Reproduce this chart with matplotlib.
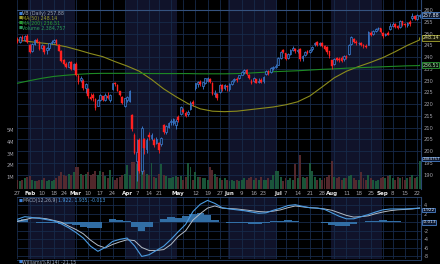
import matplotlib
matplotlib.use('Agg')
import matplotlib.pyplot as plt
import numpy as np
import pandas as pd

# ---------------- data ----------------
holidays = ['2025-02-17', '2025-04-18', '2025-05-26', '2025-06-19', '2025-07-04', '2025-09-01']
dates = pd.bdate_range('2025-01-27', '2025-09-23', freq='C', holidays=holidays)

# daily candles (open, high, low, close)
opens = [247.8, 246.5, 248.4, 247.4, 249.0,
         245.0, 242.5, 245.6, 247.2, 246.4,
         244.0, 244.6, 243.0, 243.8, 245.8,
         246.6, 247.2, 245.2, 242.6,
         238.6, 237.0, 236.0, 238.0, 235.0,
         237.2, 232.0, 230.4, 230.0, 227.0,
         226.4, 223.2, 224.0, 222.0, 219.4,
         221.8, 223.4, 221.8, 223.6, 221.8,
         226.4, 228.8, 228.2, 225.4, 223.2,
         219.4,
         221.6, 221.4, 215.4, 207.0,
         196.0, 204.6, 191.6, 205.0, 200.8,
         207.0, 205.8, 204.6, 203.4,
         203.6, 203.0, 211.0, 208.0, 210.4,
         212.4, 212.0, 211.0,
         214.6, 215.6,
         217.6, 216.4, 215.8, 218.0, 220.8,
         227.0, 228.4, 229.6, 227.6, 229.0,
         229.8, 230.6, 229.0, 224.2, 224.4,
         225.0, 228.0, 226.8, 227.8,
         226.6, 228.6, 230.2, 230.6, 231.2,
         232.6, 233.8, 234.4, 232.4, 230.0,
         229.8, 230.6, 229.4, 230.4,
         229.8, 232.8, 234.2, 233.6, 235.4,
         236.0,
         236.8, 239.6, 243.0,
         241.6, 239.6, 241.4, 243.0, 243.4,
         242.6, 243.6, 239.6, 240.8, 242.6,
         242.0, 243.4, 245.4, 246.4, 245.4,
         246.2, 244.6, 244.4, 242.6,
         238.6,
         237.0, 239.6, 239.4, 239.6, 239.0,
         240.6, 241.2, 245.6, 247.6, 246.6,
         245.8, 246.0, 245.0, 244.6, 245.2,
         250.4, 249.8, 251.2, 252.2, 252.2,
         250.2, 249.4, 250.4, 251.8,
         253.4, 254.0, 253.4, 252.8, 255.2,
         254.2, 253.6, 255.0, 256.6, 257.4,
         256.4, 257.6]
highs = [248.5, 248.8, 249.6, 249.5, 249.8,
         245.5, 246.0, 247.5, 248.0, 246.8,
         245.6, 245.0, 244.2, 246.0, 247.2,
         247.8, 247.6, 245.6, 243.0,
         239.4, 237.8, 238.4, 238.4, 237.6,
         237.8, 232.8, 232.0, 230.6, 228.8,
         226.8, 224.6, 224.8, 222.4, 222.0,
         224.4, 223.6, 224.8, 225.0, 224.2,
         229.2, 229.6, 228.6, 225.8, 223.6,
         222.8,
         223.6, 226.2, 216.0, 207.6,
         205.0, 205.6, 210.8, 205.6, 205.4,
         208.0, 207.8, 205.6, 206.0,
         203.8, 206.2, 211.6, 211.0, 212.4,
         213.6, 214.0, 213.8,
         215.4, 219.2,
         218.4, 217.0, 217.6, 221.4, 221.6,
         229.2, 229.8, 230.2, 229.6, 231.2,
         231.6, 231.0, 229.4, 226.0, 224.8,
         228.6, 228.4, 228.6, 228.2,
         228.8, 230.4, 231.0, 231.4, 232.6,
         234.0, 234.8, 234.8, 232.8, 230.8,
         231.4, 230.8, 231.2, 231.0,
         232.0, 234.6, 234.6, 235.6, 236.4,
         237.0,
         240.2, 242.4, 243.6,
         241.8, 241.8, 243.4, 244.6, 243.8,
         243.6, 243.8, 241.0, 242.6, 243.0,
         243.6, 244.8, 246.6, 246.8, 246.4,
         246.4, 245.0, 244.8, 242.8,
         238.8,
         239.8, 240.2, 240.0, 240.4, 240.8,
         241.0, 245.6, 248.8, 248.0, 247.2,
         246.6, 246.4, 245.6, 245.4, 251.0,
         251.0, 251.6, 252.4, 252.8, 252.4,
         250.6, 250.4, 251.0, 254.6,
         254.8, 254.4, 253.8, 255.8, 255.4,
         254.6, 255.0, 255.8, 258.6, 257.8,
         258.2, 258.4]
lows = [245.8, 246.2, 247.0, 247.0, 246.0,
        241.6, 242.2, 245.0, 245.8, 243.2,
        243.6, 241.2, 241.4, 243.2, 245.4,
        246.0, 245.0, 242.4, 237.8,
        236.8, 235.4, 235.8, 234.4, 234.4,
        232.0, 228.6, 229.4, 226.0, 224.6,
        222.6, 221.6, 221.2, 217.6, 219.0,
        221.4, 221.2, 221.4, 222.0, 221.0,
        226.0, 227.8, 225.4, 223.4, 220.0,
        218.6,
        220.8, 221.0, 208.6, 198.6,
        187.2, 190.6, 190.2, 198.8, 199.2,
        204.6, 204.8, 201.8, 203.0,
        199.4, 202.4, 207.4, 207.4, 209.8,
        211.0, 211.2, 209.6,
        212.6, 215.2,
        216.2, 214.4, 214.8, 217.6, 219.2,
        226.0, 227.4, 227.8, 226.6, 228.4,
        229.4, 228.8, 223.8, 223.2, 221.6,
        224.6, 225.8, 226.2, 225.6,
        225.8, 228.2, 229.4, 229.6, 230.8,
        232.2, 232.8, 232.6, 230.6, 228.6,
        229.4, 228.8, 228.8, 229.2,
        229.2, 232.4, 232.6, 233.2, 234.6,
        235.4,
        236.6, 239.2, 241.6,
        238.6, 239.2, 240.8, 242.6, 241.8,
        241.8, 238.4, 238.2, 240.4, 241.2,
        241.6, 242.8, 244.8, 244.8, 244.6,
        244.2, 243.0, 241.4, 239.8,
        234.8,
        236.8, 238.2, 238.0, 237.8, 238.4,
        239.2, 240.8, 245.2, 245.8, 245.2,
        245.0, 244.8, 244.0, 243.8, 245.0,
        249.0, 249.4, 250.8, 251.4, 250.4,
        248.2, 248.8, 249.2, 251.4,
        252.8, 252.6, 251.8, 252.6, 253.4,
        253.0, 253.0, 253.4, 256.0, 255.8,
        256.0, 256.6]
closes = [246.5, 248.4, 247.5, 249.0, 246.4,
          242.2, 245.6, 247.2, 246.4, 243.6,
          245.2, 242.0, 243.8, 245.8, 246.4,
          247.4, 245.4, 242.8, 238.2,
          237.2, 235.8, 237.8, 234.8, 237.2,
          232.4, 229.6, 231.2, 227.0, 228.4,
          223.4, 222.0, 222.8, 218.2, 221.6,
          223.8, 221.6, 224.0, 222.6, 223.8,
          228.8, 228.4, 225.8, 223.8, 220.4,
          222.4,
          223.2, 225.6, 209.4, 199.4,
          199.6, 191.4, 209.8, 201.2, 204.8,
          206.2, 206.8, 202.6, 205.2,
          200.4, 205.6, 208.0, 210.6, 212.0,
          212.8, 213.6, 213.0,
          213.2, 218.6,
          216.8, 215.0, 216.8, 220.6, 220.0,
          228.8, 229.4, 228.4, 229.4, 231.0,
          231.2, 229.4, 224.4, 224.6, 222.4,
          228.2, 226.4, 228.0, 227.2,
          228.4, 230.0, 230.6, 230.2, 232.2,
          233.6, 234.4, 233.0, 231.0, 229.0,
          231.0, 229.2, 229.8, 229.6,
          231.6, 234.2, 233.0, 235.2, 235.8,
          236.4,
          239.8, 242.0, 242.2,
          239.2, 241.2, 243.0, 244.0, 242.4,
          243.2, 239.0, 240.6, 242.2, 241.6,
          243.2, 244.4, 246.2, 245.2, 246.0,
          244.6, 243.4, 242.0, 240.4,
          236.2,
          239.4, 238.6, 238.6, 238.4, 240.4,
          239.6, 245.2, 248.4, 246.4, 245.8,
          246.2, 245.2, 244.8, 244.4, 250.6,
          249.6, 251.2, 252.0, 252.4, 250.8,
          248.8, 250.0, 249.6, 253.4,
          254.2, 253.0, 252.4, 255.4, 253.8,
          253.6, 254.6, 254.2, 257.6, 256.4,
          257.8, 257.88]

# volume in millions of shares
volumes = [0.8, 0.7, 0.8, 0.9, 1.0, 1.1, 0.8, 0.7, 0.7, 0.8,
           0.8, 0.9, 0.7, 0.8, 0.7, 0.8, 0.9, 1.1, 1.4, 1.2,
           1.1, 1.3, 1.2, 1.4, 1.9, 1.9, 1.3, 1.2, 1.3, 1.4,
           1.2, 1.3, 1.5, 1.2, 1.5, 1.4, 1.1, 0.9, 1.6, 1.0,
           0.8, 0.9, 1.0, 1.2, 1.3, 2.0, 1.2, 2.3, 2.3, 2.1,
           2.0, 2.2, 1.6, 1.3, 1.2, 2.2, 1.0, 0.9, 1.3, 2.1,
           1.2, 1.1, 0.9, 0.9, 1.0, 1.1, 1.0, 1.1, 0.8, 1.0,
           2.2, 1.9, 0.8, 1.4, 1.0, 1.0, 0.9, 0.9, 0.8, 1.9,
           1.6, 1.3, 1.0, 0.9, 0.8, 0.9, 0.8, 0.7, 0.8, 0.7,
           0.8, 0.7, 0.8, 0.9, 0.8, 0.9, 1.0, 0.8, 0.9, 0.8,
           1.0, 0.8, 0.8, 0.9, 0.8, 1.2, 1.5, 1.5, 1.0, 0.7,
           0.9, 0.8, 0.9, 0.8, 2.1, 0.9, 2.9, 1.0, 0.9, 1.0,
           2.2, 1.5, 1.0, 0.8, 0.9, 0.8, 0.9, 1.0, 1.2, 2.4,
           1.0, 0.9, 1.0, 0.8, 0.9, 0.9, 1.1, 1.2, 0.9, 0.8,
           0.8, 1.4, 0.9, 0.8, 1.2, 0.9, 0.8, 0.7, 0.8, 0.9,
           1.0, 0.9, 1.1, 1.2, 0.9, 0.8, 1.0, 0.9, 1.0, 0.8,
           0.9, 1.0, 1.2, 0.9, 1.0, 2.38]

ma_idx = list(range(0, 166, 5)) + [165]
ma50 = [247.3, 246.6, 246.0, 245.4, 244.4, 243.0, 241.5, 240.2, 238.1, 236.2, 234.0,
        230.5, 226.5, 223.2, 220.2, 218.0, 217.0, 216.8, 217.0, 217.6, 218.2, 218.8,
        219.7, 221.0, 223.5, 227.3, 231.2, 234.0, 236.0, 237.8, 239.8, 242.3, 245.0,
        247.3, 248.14]
ma200 = [228.9, 230.0, 231.0, 231.8, 232.3, 232.7, 233.0, 233.1, 233.1, 233.1, 233.1,
         233.0, 233.0, 233.0, 233.0, 232.9, 232.9, 232.9, 233.0, 233.2, 233.5, 233.8,
         234.0, 234.2, 234.5, 234.8, 235.0, 235.3, 235.5, 235.7, 235.9, 236.1, 236.3,
         236.4, 236.51]

macd_idx = list(range(0, 166, 3))
macd = [0.7, 1.3, 1.1, 0.9, 0.6, 0.3, -0.4, -1.3, -2.4, -3.7, -5.6, -6.8, -5.9, -4.5,
        -4.0, -3.7, -5.5, -8.0, -7.6, -6.6, -5.6, -4.0, -2.2, -0.5, 2.5, 4.2, 5.1, 4.4,
        3.4, 3.1, 2.9, 2.7, 2.4, 2.1, 2.2, 2.8, 3.3, 3.9, 4.1, 3.7, 3.4, 3.3, 3.0, 2.2,
        1.4, 0.8, 0.8, 1.3, 1.8, 2.4, 2.9, 3.1, 3.1, 3.1, 3.2, 3.3]
signal = [0.2, 0.6, 1.0, 1.0, 0.8, 0.4, 0.0, -0.9, -1.7, -2.7, -4.2, -5.4, -6.0, -5.2,
          -4.6, -4.1, -4.3, -5.9, -6.6, -6.6, -6.4, -5.2, -3.3, -2.0, 0.5, 2.0, 3.3, 3.8,
          3.3, 3.2, 3.1, 2.9, 2.7, 2.5, 2.4, 2.6, 2.9, 3.4, 3.8, 3.6, 3.4, 3.3, 3.1, 2.8,
          2.2, 1.6, 1.2, 1.3, 1.5, 2.0, 2.4, 2.7, 2.9, 3.0, 3.1, 3.3]

price_ticks = list(range(190, 261, 5))
vol_ticks = [1, 2, 3, 4, 5]
macd_ticks = [4, 2, -2, -4, -6, -8]
tick_days = ['2025-01-27', '2025-02-03', '2025-02-10', '2025-02-18', '2025-02-24', '2025-03-03',
             '2025-03-10', '2025-03-17', '2025-03-24', '2025-04-01', '2025-04-07', '2025-04-14',
             '2025-04-21', '2025-05-01', '2025-05-12', '2025-05-19', '2025-05-27', '2025-06-02',
             '2025-06-09', '2025-06-16', '2025-06-23', '2025-07-01', '2025-07-07', '2025-07-14',
             '2025-07-21', '2025-07-28', '2025-08-01', '2025-08-11', '2025-08-18', '2025-08-25',
             '2025-09-02', '2025-09-08', '2025-09-15', '2025-09-22']
tick_labels = ['27', 'Feb', '10', '18', '24', 'Mar', '10', '17', '24', 'Apr', '7', '14', '21',
               'May', '12', '19', '27', 'Jun', '9', '16', '23', 'Jul', '7', '14', '21', '28',
               'Aug', '11', '18', '25', 'Sep', '8', '15', '22']
shade_months = [2, 4, 6, 8]

# ---------------- style ----------------
W, H = 440, 264
BG = '#000000'
SHADE = '#10132a'
GRID = '#172a4a'
UP = '#3d80d8'
DOWN = '#ff2020'
TXT = '#a0a0a8'
FS = 3.7

opens = np.array(opens)
highs = np.array(highs)
lows = np.array(lows)
closes = np.array(closes)

fig = plt.figure(figsize=(4.4, 2.64), dpi=100)
fig.patch.set_facecolor(BG)


def ax_px(x0, y0, x1, y1):
    return fig.add_axes([x0 / W, 1 - y1 / H, (x1 - x0) / W, (y1 - y0) / H])


PY = (183.9, 264.3)
ax = ax_px(17, 0, 421, 189)
axv = ax.twinx()
axm = ax_px(17, 197, 421, 259)

n = len(dates)
xi = np.arange(n)
XL = (-0.2, 165.6)

week_start = [i for i in range(n) if i == 0 or dates[i].weekday() < dates[i - 1].weekday()]
tick_pos = [int(dates.get_loc(pd.Timestamp(d))) for d in tick_days]

for a in (ax, axm):
    a.set_facecolor(BG)
    a.set_xlim(*XL)
    for m in shade_months:
        idx = np.where(dates.month == m)[0]
        a.axvspan(idx[0] - 0.5, idx[-1] + 0.5, color=SHADE, zorder=0, lw=0)
    for w in week_start:
        a.axvline(w, color=GRID, lw=0.6, zorder=0.5)
    a.set_xticks([])
    for s in a.spines.values():
        s.set_visible(False)
    a.spines['right'].set_visible(True)
    a.spines['right'].set_color('#2a4670')
    a.spines['right'].set_linewidth(0.8)
    a.tick_params(axis='y', which='both', length=0)

# price axis
ax.set_ylim(*PY)
for p in price_ticks:
    ax.axhline(p, color=GRID, lw=0.6, zorder=0.5)
ax.axhline(260, color='#35527e', lw=0.8, zorder=0.6)
ax.yaxis.tick_right()
ax.set_yticks(price_ticks)
ax.set_yticklabels([str(p) for p in price_ticks], color=TXT, fontsize=FS)
ax.tick_params(axis='y', pad=2)

# volume
axv.set_ylim(0, 16.0)
axv.set_xlim(*XL)
vcol = ['#1c5e3e' if closes[i] >= opens[i] else '#5c2c30' for i in range(n)]
axv.bar(xi, volumes, width=0.8, color=vcol, alpha=0.9, zorder=1, lw=0)
axv.yaxis.tick_left()
axv.set_yticks(vol_ticks)
axv.set_yticklabels([f'{v}M' for v in vol_ticks], color=TXT, fontsize=FS)
axv.tick_params(axis='y', length=0, pad=2)
for s in axv.spines.values():
    s.set_visible(False)
axv.set_zorder(ax.get_zorder() + 1)
axv.patch.set_visible(False)

axc = ax_px(17, 0, 421, 189)
axc.set_xlim(*XL)
axc.set_ylim(*PY)
axc.axis('off')
axc.set_zorder(axv.get_zorder() + 1)
axc.patch.set_visible(False)

up = closes >= opens
cols = np.where(up, UP, DOWN)
axc.vlines(xi, lows, highs, colors=cols, lw=0.6, zorder=3)
bodies_b = np.minimum(opens, closes)
bodies_h = np.maximum(np.abs(closes - opens), 0.15)
axc.bar(xi[up], bodies_h[up], bottom=bodies_b[up], width=0.7, facecolor='#0c1a33',
        edgecolor=UP, lw=0.5, zorder=4)
axc.bar(xi[~up], bodies_h[~up], bottom=bodies_b[~up], width=0.7, facecolor=DOWN,
        edgecolor=DOWN, lw=0.3, zorder=4)
axc.plot(ma_idx, ma50, color='#8c8c1c', lw=0.8, zorder=2)
axc.plot(ma_idx, ma200, color='#1e8a24', lw=0.8, zorder=2)

# legend text
leg = [('VB (Daily) 257.88', '#9aa6b8', UP), ('MA(50) 248.14', '#9c9c2a', '#9c9c2a'),
       ('MA(200) 236.51', '#2a9a34', '#2a9a34'), ('Volume 2,384,757', '#2a9a5a', '#2a9a5a')]
for k, (t, c, mc) in enumerate(leg):
    yy = 13.5 + k * 4.9
    fig.text(18.5 / W, 1 - yy / H, '\u25a0', color=mc, fontsize=3.0, va='center', ha='left')
    fig.text(22 / W, 1 - yy / H, t, color=c, fontsize=3.4, va='center', ha='left')


def box(y, txt, ec, fc, tc, fs=3.4):
    fig.text(422.5 / W, 1 - y / H, txt, color=tc, fontsize=fs, va='center', ha='left',
             bbox=dict(boxstyle='square,pad=0.08', fc=fc, ec=ec, lw=0.6), zorder=10)


def p2y(p):
    return (PY[1] - p) / (PY[1] - PY[0]) * 189


box(p2y(257.88), '257.88', '#4a80c8', '#0c1830', '#e0e6f0')
box(p2y(248.14), '248.14', '#a8a830', '#1a1a08', '#e0e0a0')
box(p2y(236.51), '236.51', '#2a9a34', '#08180a', '#b0e0b0')
box(189 - 2.38 * 189 / 16.0 - 2, '2384757', '#4a80c8', '#0c1830', '#e0e6f0', fs=2.9)

# date labels
for pos, lab in zip(tick_pos, tick_labels):
    xpix = 17 + (pos - XL[0]) / (XL[1] - XL[0]) * 404
    bold = not lab.isdigit()
    fig.text(xpix / W, 1 - 193.3 / H, lab, color='#e8e8e8' if bold else TXT,
             fontsize=4.0, ha='center', va='center', fontweight='bold' if bold else 'normal')

# MACD
MY = (-8.6, 5.9)
axm.set_ylim(*MY)
for t in [4, 2, 0, -2, -4, -6, -8]:
    axm.axhline(t, color=GRID, lw=0.6, zorder=0.5)
hist = np.array(macd) - np.array(signal)
axm.bar(macd_idx, hist, width=3.0, color='#3474ad', alpha=0.95, lw=0, zorder=1)
axm.plot(macd_idx, signal, color='#b4bcc6', lw=0.7, zorder=2)
axm.plot(macd_idx, macd, color='#4a9ae0', lw=0.8, zorder=3)
axm.yaxis.tick_right()
axm.set_yticks(macd_ticks)
axm.set_yticklabels([str(t) for t in macd_ticks], color=TXT, fontsize=FS)
axm.tick_params(axis='y', pad=2)
axm.spines['top'].set_visible(True)
axm.spines['top'].set_color('#2a4670')
axm.spines['top'].set_linewidth(0.6)


def m2y(v):
    return 197 + (MY[1] - v) / (MY[1] - MY[0]) * 62


box(m2y(2.85), '1.922', '#4a80c8', '#0c1830', '#e0e6f0', fs=3.1)
box(m2y(0.0), '-0.013', '#4a80c8', '#0c1830', '#e0e6f0', fs=3.1)

fig.text(18.5 / W, 1 - 200.5 / H, '\u25a0', color=UP, fontsize=3.0, va='center')
fig.text(22 / W, 1 - 200.5 / H, 'MACD(12,26,9)', color='#9aa6b8', fontsize=3.3, va='center')
fig.text(58 / W, 1 - 200.5 / H, '1.922, 1.935, -0.013', color='#4a9ae0', fontsize=3.3, va='center')

# Williams strip
fig.add_artist(plt.Line2D([17 / W, 421 / W], [1 - 259.5 / H, 1 - 259.5 / H], color='#2a4670', lw=0.6))
fig.text(18.5 / W, 1 - 262.3 / H, '\u25a0', color=UP, fontsize=3.0, va='center')
fig.text(22 / W, 1 - 262.3 / H, 'Williams%R(14) -21.15', color='#9aa6b8', fontsize=3.4, va='center')

fig.savefig('out.png', dpi=100, facecolor=BG)
